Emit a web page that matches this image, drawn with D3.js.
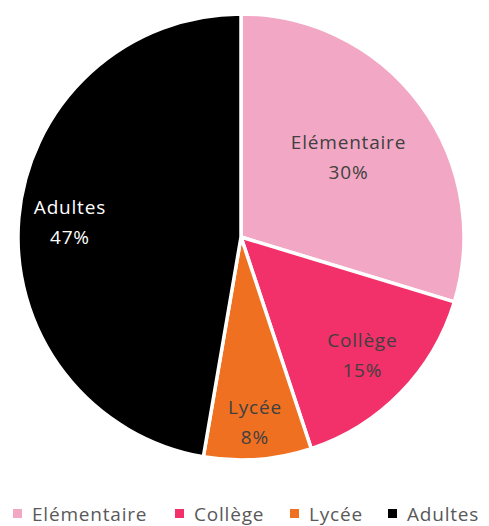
<!DOCTYPE html>
<html>
<head>
<meta charset="utf-8">
<script src="https://cdn.jsdelivr.net/npm/d3@7"></script>
<style>
  body { margin: 0; background: #fff; }
  text { font-family: "Open Sans", "Liberation Sans", sans-serif; fill: #404040; }
</style>
</head>
<body>
<script>
var categories = ["Elémentaire", "Collège", "Lycée", "Adultes"];
var values = [29.7, 15.2, 7.8, 47.3];
var colors = ["#F2A8C4", "#F2306A", "#F07022", "#000000"];
var labelColors = ["#404040", "#404040", "#404040", "#FFFFFF"];
// how far out each label sits (fraction of radius), like excel's best fit
var labelPos = [0.6, 0.76, 0.83, 0.77];

var width = 489, height = 526;
var cx = 241, cy = 237, radius = 223;

var data = categories.map(function(c, i){
  return {name: c, value: values[i], color: colors[i], lc: labelColors[i], lp: labelPos[i]};
});

var svg = d3.select("body").append("svg").attr("width", width).attr("height", height);

var pie = d3.pie().sort(null).value(function(d){ return d.value; });
var arc = d3.arc().innerRadius(0).outerRadius(radius);

var g = svg.append("g").attr("transform", "translate(" + cx + "," + cy + ")");

var slices = pie(data);

g.selectAll("path").data(slices).enter().append("path")
    .attr("d", arc)
    .attr("fill", function(d){ return d.data.color; })
    .attr("stroke", "#fff")
    .attr("stroke-width", 3.5)
    .attr("stroke-linejoin", "round");

var total = d3.sum(values);
var labels = g.selectAll("g.lbl").data(slices).enter().append("g").attr("class", "lbl")
    .attr("transform", function(d){
      var r = radius * d.data.lp;
      var a = (d.startAngle + d.endAngle) / 2;
      return "translate(" + (Math.sin(a) * r) + "," + (-Math.cos(a) * r) + ")";
    });
labels.append("text").attr("text-anchor", "middle").attr("y", -8)
    .style("font-size", "19px").style("letter-spacing", "0.8px")
    .style("fill", function(d){ return d.data.lc; })
    .text(function(d){ return d.data.name; });
labels.append("text").attr("text-anchor", "middle").attr("y", 22)
    .style("font-size", "19px").style("letter-spacing", "0.8px")
    .style("fill", function(d){ return d.data.lc; })
    .text(function(d){ return Math.round(d.data.value / total * 100) + "%"; });

// legend
var legendX = [13, 175, 290, 388];
var legend = svg.append("g").attr("transform", "translate(0,521)");
var items = legend.selectAll("g").data(data).enter().append("g")
    .attr("transform", function(d, i){ return "translate(" + legendX[i] + ",0)"; });
items.append("rect").attr("x", 0).attr("y", -12).attr("width", 9).attr("height", 9)
    .attr("fill", function(d){ return d.color; });
items.append("text").attr("x", 19).attr("y", 0)
    .style("font-size", "19px").style("letter-spacing", "0.8px")
    .style("fill", "#595959")
    .text(function(d){ return d.name; });
</script>
</body>
</html>
